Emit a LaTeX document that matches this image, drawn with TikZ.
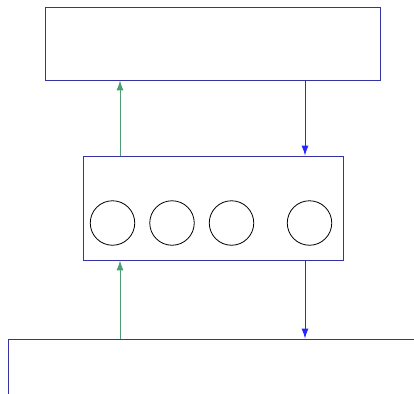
\documentclass[tikz,border=0pt]{standalone}
\usepackage[x11names]{xcolor}
\usepackage{tikz}
\usetikzlibrary{calc}
\usetikzlibrary{positioning}
\usetikzlibrary{arrows.meta}

\definecolor{boxblue}{rgb}{0.2,0.2,0.65}
\definecolor{upgreen}{rgb}{0.18,0.55,0.34}

\tikzset{
    layer/.style={rectangle, draw=boxblue, line width=0.8pt, inner sep=0pt},
    slot/.style={circle, draw=black, line width=0.8pt, minimum size=44.5pt, inner sep=0pt},
    up/.style={-{Latex[length=10pt, width=7pt]}, upgreen!85, line width=1pt},
    down/.style={-{Latex[length=10pt, width=7pt]}, blue!85, line width=1pt}
}

\begin{document}
\begin{tikzpicture}[x=1pt, y=-1pt]
\useasboundingbox (0,0) rectangle (414,393);
\node[layer, minimum width=335pt, minimum height=73pt]  (top)    at ( 212.5, 43.5 )  {};
\node[layer, minimum width=260pt, minimum height=104pt] (mid)    at ( 213,  208   )  {};
\node[layer, minimum width=432pt, minimum height=81pt]  (bottom) at ( 224,  379.5 )  {};
% the four slots
\node[slot] (c1) at ( 112.5, 223 ) {};
\node[slot] (c2) at ( 172,   223 ) {};
\node[slot] (c3) at ( 231.5, 223 ) {};
\node[slot] (c4) at ( 309.5, 223 ) {};
% links between layers
\coordinate (gx) at ( 120, 0 );
\coordinate (bx) at ( 305, 0 );
\draw[up]   (mid.north -| gx)    -- (top.south -| gx);
\draw[up]   (bottom.north -| gx) -- (mid.south -| gx);
\draw[down] (top.south -| bx)    -- (mid.north -| bx);
\draw[down] (mid.south -| bx)    -- (bottom.north -| bx);
\end{tikzpicture}
\end{document}
